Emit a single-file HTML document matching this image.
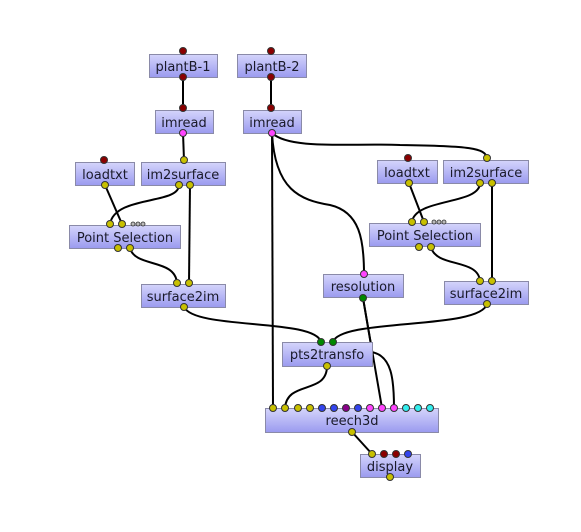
<!DOCTYPE html>
<html><head><meta charset="utf-8"><style>
html,body{margin:0;padding:0;background:#fff;width:581px;height:532px;overflow:hidden}
svg text{font-family:"DejaVu Sans","Liberation Sans",sans-serif;font-size:13px;fill:#1a1a2a}
</style></head><body>
<svg width="581" height="532" viewBox="0 0 581 532" xmlns="http://www.w3.org/2000/svg">
<defs><linearGradient id="g" x1="0" y1="0" x2="0" y2="1"><stop offset="0" stop-color="#d4d4fb"/><stop offset="1" stop-color="#9a9aef"/></linearGradient></defs>
<g fill="none" stroke="#000" stroke-width="2">
<path d="M183,77 L183,108"/><path d="M271,77 L271,108"/>
<path d="M183,133 L184,160"/>
<path d="M272,133 L273,408"/>
<path d="M272,133 C275,190 300,200 330,205 C360,212 364,240 364,274"/>
<path d="M272,133 C290,150 350,143 400,145 C470,146 485,148 487,158"/>
<path d="M105,185 L122,224"/>
<path d="M179,185 C179,205 115,195 110,224"/>
<path d="M190,185 L189,283"/>
<path d="M130,248 C135,268 175,258 177,283"/>
<path d="M409,183 L424,222"/>
<path d="M480,183 C480,205 415,198 412,222"/>
<path d="M492,183 L492,281"/>
<path d="M431,247 C436,268 478,258 480,281"/>
<path d="M184,307 C195,330 315,318 321,342"/>
<path d="M487,304 C480,330 340,318 333,342"/>
<path d="M327,366 C327,395 287,380 285,408"/>
<path d="M363,298 L382,408"/>
<path d="M363,298 L371,345"/>
<path d="M371,352 C392,355 394,380 394,408"/>
<path d="M352,432 L372,454"/>
</g>
<g stroke="#8a8aa8" stroke-width="1" fill="url(#g)">
<rect x="149.5" y="54.5" width="68" height="23"/>
<rect x="237.5" y="54.5" width="69" height="23"/>
<rect x="155.5" y="110.5" width="58" height="23"/>
<rect x="243.5" y="110.5" width="58" height="23"/>
<rect x="75.5" y="162.5" width="59" height="23"/>
<rect x="141.5" y="162.5" width="84" height="23"/>
<rect x="69.5" y="225.5" width="111" height="23"/>
<rect x="141.5" y="284.5" width="84" height="23"/>
<rect x="377.5" y="160.5" width="60" height="23"/>
<rect x="443.5" y="160.5" width="85" height="23"/>
<rect x="369.5" y="223.5" width="111" height="23"/>
<rect x="444.5" y="281.5" width="84" height="23"/>
<rect x="323.5" y="274.5" width="80" height="23"/>
<rect x="282.5" y="342.5" width="90" height="24"/>
<rect x="265.5" y="408.5" width="173" height="24"/>
<rect x="360.5" y="454.5" width="60" height="23"/>
</g>
<g text-anchor="middle">
<text x="183" y="71">plantB-1</text>
<text x="272" y="71">plantB-2</text>
<text x="184" y="127">imread</text>
<text x="272" y="127">imread</text>
<text x="105" y="179">loadtxt</text>
<text x="183" y="179">im2surface</text>
<text x="125" y="242">Point Selection</text>
<text x="183" y="301">surface2im</text>
<text x="407" y="177">loadtxt</text>
<text x="486" y="177">im2surface</text>
<text x="425" y="240">Point Selection</text>
<text x="486" y="298">surface2im</text>
<text x="363" y="291">resolution</text>
<text x="327" y="359">pts2transfo</text>
<text x="352" y="425">reech3d</text>
<text x="390" y="471">display</text>
</g>
<g stroke="#333" stroke-width="1">
<g fill="#8b0000">
<circle cx="183" cy="51" r="3.5"/><circle cx="183" cy="77" r="3.5"/>
<circle cx="271" cy="51" r="3.5"/><circle cx="271" cy="77" r="3.5"/>
<circle cx="183" cy="108" r="3.5"/><circle cx="271" cy="108" r="3.5"/>
<circle cx="104" cy="160" r="3.5"/><circle cx="408" cy="158" r="3.5"/>
<circle cx="384" cy="454" r="3.5"/><circle cx="396" cy="454" r="3.5"/>
</g>
<g fill="#ff44ff">
<circle cx="183" cy="133" r="3.5"/><circle cx="272" cy="133" r="3.5"/><circle cx="364" cy="274" r="3.5"/>
<circle cx="370" cy="408" r="3.5"/><circle cx="382" cy="408" r="3.5"/><circle cx="394" cy="408" r="3.5"/>
</g>
<g fill="#c8c000">
<circle cx="105" cy="185" r="3.5"/><circle cx="184" cy="160" r="3.5"/>
<circle cx="179" cy="185" r="3.5"/><circle cx="190" cy="185" r="3.5"/>
<circle cx="110" cy="224" r="3.5"/><circle cx="122" cy="224" r="3.5"/>
<circle cx="118" cy="248" r="3.5"/><circle cx="130" cy="248" r="3.5"/>
<circle cx="177" cy="283" r="3.5"/><circle cx="189" cy="283" r="3.5"/><circle cx="184" cy="307" r="3.5"/>
<circle cx="409" cy="183" r="3.5"/><circle cx="487" cy="158" r="3.5"/>
<circle cx="480" cy="183" r="3.5"/><circle cx="492" cy="183" r="3.5"/>
<circle cx="412" cy="222" r="3.5"/><circle cx="424" cy="222" r="3.5"/>
<circle cx="419" cy="247" r="3.5"/><circle cx="431" cy="247" r="3.5"/>
<circle cx="480" cy="281" r="3.5"/><circle cx="492" cy="281" r="3.5"/><circle cx="487" cy="304" r="3.5"/>
<circle cx="327" cy="366" r="3.5"/>
<circle cx="273" cy="408" r="3.5"/><circle cx="285" cy="408" r="3.5"/><circle cx="298" cy="408" r="3.5"/><circle cx="310" cy="408" r="3.5"/>
<circle cx="352" cy="432" r="3.5"/><circle cx="372" cy="454" r="3.5"/><circle cx="390" cy="477" r="3.5"/>
</g>
<g fill="#008800">
<circle cx="363" cy="298" r="3.5"/><circle cx="321" cy="342" r="3.5"/><circle cx="333" cy="342" r="3.5"/>
</g>
<g fill="#3344ee">
<circle cx="322" cy="408" r="3.5"/><circle cx="334" cy="408" r="3.5"/><circle cx="358" cy="408" r="3.5"/><circle cx="408" cy="454" r="3.5"/>
</g>
<circle cx="346" cy="408" r="3.5" fill="#880088"/>
<g fill="#33eeee">
<circle cx="406" cy="408" r="3.5"/><circle cx="418" cy="408" r="3.5"/><circle cx="430" cy="408" r="3.5"/>
</g>
<g fill="#bbb" stroke="#333" stroke-width="0.8">
<circle cx="133" cy="224" r="2"/><circle cx="138" cy="224" r="2"/><circle cx="143" cy="224" r="2"/>
<circle cx="434" cy="222" r="2"/><circle cx="439" cy="222" r="2"/><circle cx="444" cy="222" r="2"/>
</g>
</g>
</svg>
</body></html>
